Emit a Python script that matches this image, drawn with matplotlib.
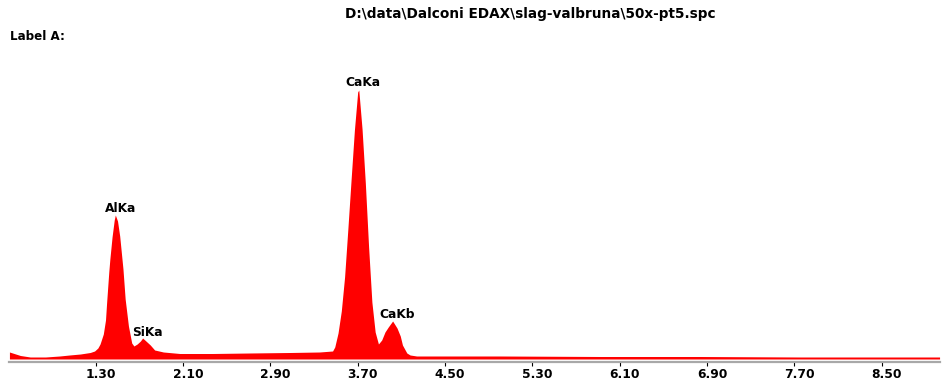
"""
EDAX spectrum plot, slag-valbruna 50x-pt5: filled red spectrum with peak labels.
"""
import numpy as np
import matplotlib
matplotlib.use("Agg")
import matplotlib.pyplot as plt
from matplotlib.transforms import ScaledTranslation

# energy (keV) and counts
energy = [0.51, 0.61, 0.70, 0.84, 0.97, 1.06, 1.16, 1.25, 1.29, 1.32, 1.34, 1.37,
          1.39, 1.40, 1.42, 1.43, 1.45, 1.47, 1.48, 1.50, 1.52, 1.55, 1.57, 1.60,
          1.63, 1.65, 1.68, 1.71, 1.73, 1.76, 1.80, 1.84, 1.92, 2.07, 2.37, 2.71,
          3.08, 3.35, 3.47, 3.49, 3.52, 3.55, 3.58, 3.61, 3.64, 3.67, 3.70, 3.71,
          3.74, 3.77, 3.80, 3.83, 3.86, 3.89, 3.92, 3.95, 3.98, 4.02, 4.06, 4.09,
          4.11, 4.15, 4.18, 4.24, 4.55, 5.00, 5.92, 6.83, 7.75, 8.67, 9.03]
counts = [70, 35, 20, 20, 30, 40, 50, 65, 80, 110, 150, 250,
          390, 560, 870, 1000, 1220, 1390, 1440, 1380, 1230, 900, 600, 330,
          160, 130, 150, 180, 210, 180, 140, 90, 70, 55, 55, 60,
          65, 70, 80, 120, 260, 480, 820, 1300, 1800, 2290, 2670, 2690,
          2300, 1760, 1120, 570, 270, 150, 190, 270, 320, 380, 310, 230,
          140, 60, 40, 30, 30, 30, 25, 25, 20, 20, 20]

peak_names = ["AlKa", "SiKa", "CaKa", "CaKb"]
peak_energy = [1.48, 1.73, 3.71, 4.02]

tick_pos = [1.30, 2.10, 2.90, 3.70, 4.50, 5.30, 6.10, 6.90, 7.70, 8.50]
tick_lab = ["1.30", "2.10", "2.90", "3.70", "4.50", "5.30", "6.10", "6.90", "7.70", "8.50"]

W, H = 942, 383
fig = plt.figure(figsize=(W / 100, H / 100), dpi=100)
ax = fig.add_axes([9 / W, (H - 362) / H, (940 - 9) / W, (362 - 60) / H])

ax.fill_between(energy, counts, 0, color="#ff0000", lw=0, zorder=2)
ax.set_xlim(0.506, 9.034)
ax.set_ylim(-30, 2990)

for sp in ("top", "right", "left"):
    ax.spines[sp].set_visible(False)
ax.spines["bottom"].set_color("#a8a8a8")
ax.spines["bottom"].set_linewidth(1.6)
ax.set_yticks([])
ax.set_xticks(tick_pos)
ax.set_xticklabels(tick_lab, fontsize=8.8, fontweight="bold")
ax.tick_params(axis="x", direction="out", length=2.8, width=0.8, color="black", pad=1.5)
shift = ScaledTranslation(5 / 100, 0, fig.dpi_scale_trans)
for lab in ax.get_xticklabels():
    lab.set_transform(lab.get_transform() + shift)

# peak labels sit just above and right of each peak top
offsets = [(5, 6), (5, 6), (4, 7), (5, 7)]
for name, e, off in zip(peak_names, peak_energy, offsets):
    c = np.interp(e, energy, counts)
    ax.annotate(name, (e, c), xytext=off, textcoords="offset pixels",
                ha="center", va="center", fontsize=8.8, fontweight="bold")

fig.text(530 / W, 1 - 14 / H, r"D:\data\Dalconi EDAX\slag-valbruna\50x-pt5.spc",
         ha="center", va="center", fontsize=9.8, fontweight="bold")
fig.text(10 / W, 1 - 37 / H, "Label A:", ha="left", va="center",
         fontsize=8.6, fontweight="bold")

fig.savefig("out.png", dpi=100, facecolor="white")
